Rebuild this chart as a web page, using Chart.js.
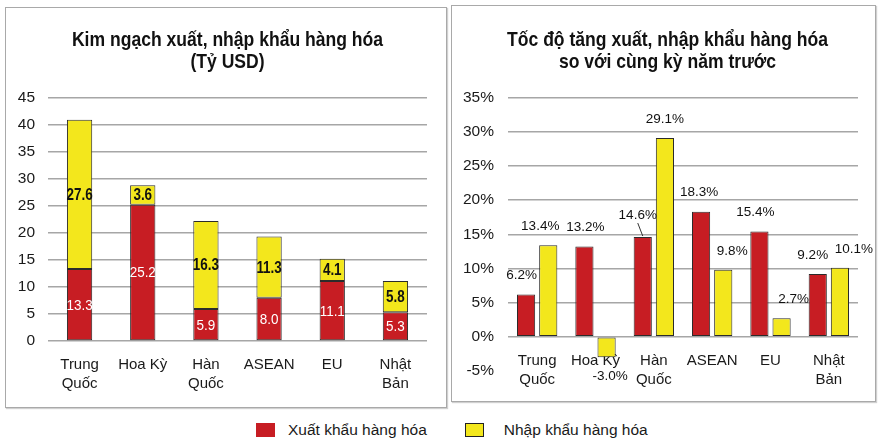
<!DOCTYPE html>
<html>
<head>
<meta charset="utf-8">
<script src="https://cdn.jsdelivr.net/npm/chart.js@4.4.1/dist/chart.umd.min.js"></script>
<style>
  html, body { margin: 0; padding: 0; background: #fff; }
  body { width: 883px; height: 446px; position: relative; overflow: hidden; font-family: "Liberation Sans", Arial, sans-serif; }
  .panel { position: absolute; box-sizing: border-box; border: 1px solid #a9a9a9; box-shadow: 1px 1px 1px #d0d0d0; background: #fff; }
  .panel canvas { position: absolute; left: 0; top: 0; }
  #p1 { left: 5px; top: 7px; width: 442px; height: 401px; }
  #p2 { left: 451px; top: 5px; width: 425px; height: 397px; }
  #legend { position: absolute; left: 256px; top: 421px; display: flex; align-items: center; font-size: 15.5px; color: #1a1a1a; white-space: nowrap; }
  .lg-item { display: flex; align-items: center; }
  .lg-box { width: 19px; height: 14px; box-sizing: border-box; }
</style>
</head>
<body>
<div class="panel" id="p1"><canvas id="c1" width="440" height="399" style="width:440px;height:399px"></canvas></div>
<div class="panel" id="p2"><canvas id="c2" width="423" height="395" style="width:423px;height:395px"></canvas></div>
<div id="legend"></div>
<script>
// ---- data ----
const categories = [['Trung', 'Quốc'], 'Hoa Kỳ', ['Hàn', 'Quốc'], 'ASEAN', 'EU', ['Nhật', 'Bản']];
const seriesNames = ['Xuất khẩu hàng hóa', 'Nhập khẩu hàng hóa'];
const exportValue = [13.3, 25.2, 5.9, 8.0, 11.1, 5.3];   // tỷ USD
const importValue = [27.6, 3.6, 16.3, 11.3, 4.1, 5.8];   // tỷ USD
const exportGrowth = [6.2, 13.2, 14.6, 18.3, 15.4, 9.2]; // %
const importGrowth = [13.4, -3.0, 29.1, 9.8, 2.7, 10.1]; // %
const leftTicks = [0, 5, 10, 15, 20, 25, 30, 35, 40, 45];
const rightTicks = [-5, 0, 5, 10, 15, 20, 25, 30, 35];
const leftTitle = ['Kim ngạch xuất, nhập khẩu hàng hóa', '(Tỷ USD)'];
const rightTitle = ['Tốc độ tăng xuất, nhập khẩu hàng hóa', 'so với cùng kỳ năm trước'];

// ---- styles ----
const RED = '#c71d23';
const YELLOW = '#f3e71c';
const EDGE = '#2b2b2b';
const GRID = '#a6a6a6';
const FONT = '"Liberation Sans", Arial, sans-serif';

function squeezedText(ctx, text, x, y, sx) {
  ctx.save();
  ctx.translate(x, y);
  ctx.scale(sx, 1);
  ctx.fillText(text, 0, 0);
  ctx.restore();
}

// legend
const legend = document.getElementById('legend');
[[RED, 'none'], [YELLOW, '1.5px solid #222']].forEach((st, i) => {
  const it = document.createElement('div');
  it.className = 'lg-item';
  it.style.marginRight = i === 0 ? '38px' : '0';
  const b = document.createElement('div');
  b.className = 'lg-box';
  b.style.background = st[0];
  b.style.border = st[1];
  b.style.marginRight = i === 0 ? '13px' : '20px';
  const t = document.createElement('span');
  t.textContent = seriesNames[i];
  it.appendChild(b); it.appendChild(t);
  legend.appendChild(it);
});

// condensed bold title plugin
const narrowTitle = {
  id: 'narrowTitle',
  afterDraw(chart, args, opts) {
    const ctx = chart.ctx;
    ctx.save();
    ctx.font = 'bold 21px ' + FONT;
    ctx.fillStyle = '#111';
    ctx.textAlign = 'center';
    ctx.textBaseline = 'middle';
    opts.lines.forEach((line, k) => {
      squeezedText(ctx, line, chart.width / 2 + opts.dx, opts.y + k * 22, 0.836);
    });
    ctx.restore();
  }
};

// stacked labels plugin (left)
const stackLabels = {
  id: 'stackLabels',
  afterDatasetsDraw(chart) {
    const ctx = chart.ctx;
    ctx.save();
    ctx.textAlign = 'center';
    ctx.textBaseline = 'middle';
    chart.data.datasets.forEach((ds, di) => {
      const meta = chart.getDatasetMeta(di);
      meta.data.forEach((el, i) => {
        const p = el.getProps(['x', 'y', 'base'], true);
        const cy = (p.y + p.base) / 2 + 1;
        const txt = ds.data[i].toFixed(1);
        if (di === 0) {
          ctx.font = '14.5px ' + FONT;
          ctx.fillStyle = '#ffffff';
          squeezedText(ctx, txt, p.x, cy, 0.93);
        } else {
          ctx.font = 'bold 16px ' + FONT;
          ctx.fillStyle = '#111';
          squeezedText(ctx, txt, p.x, cy, 0.84);
        }
      });
    });
    ctx.restore();
  }
};

// grouped labels plugin (right)
const growthLabels = {
  id: 'growthLabels',
  afterDatasetsDraw(chart, args, opts) {
    const ctx = chart.ctx;
    ctx.save();
    ctx.textAlign = 'center';
    ctx.textBaseline = 'middle';
    ctx.font = '13.5px ' + FONT;
    ctx.fillStyle = '#111';
    chart.data.datasets.forEach((ds, di) => {
      const meta = chart.getDatasetMeta(di);
      meta.data.forEach((el, i) => {
        const p = el.getProps(['x', 'y', 'base'], true);
        const v = ds.data[i];
        const dx = opts.dx[di][i];
        const extra = opts.lift[di][i];
        const lx = p.x + dx;
        const ly = v >= 0 ? p.y - 19 - extra : p.y + 19;
        ctx.fillText(v.toFixed(1) + '%', lx, ly);
        if (extra > 0) {
          ctx.strokeStyle = '#333';
          ctx.lineWidth = 1;
          ctx.beginPath();
          ctx.moveTo(lx, ly + 8);
          ctx.lineTo(p.x, p.y - 1);
          ctx.stroke();
        }
      });
    });
    ctx.restore();
  }
};

Chart.defaults.font.family = FONT;
Chart.defaults.color = '#1a1a1a';

// ---- left chart ----
new Chart(document.getElementById('c1'), {
  type: 'bar',
  data: {
    labels: categories,
    datasets: [
      { label: seriesNames[0], data: exportValue, backgroundColor: RED, borderColor: EDGE, borderWidth: 1, borderSkipped: false },
      { label: seriesNames[1], data: importValue, backgroundColor: YELLOW, borderColor: EDGE, borderWidth: 1, borderSkipped: false }
    ]
  },
  options: {
    responsive: false,
    animation: false,
    layout: { padding: { left: 0, right: 19, top: 89.6, bottom: 0 } },
    datasets: { bar: { barPercentage: 0.4, categoryPercentage: 1.0 } },
    plugins: {
      legend: { display: false },
      tooltip: { enabled: false },
      title: { display: false },
      narrowTitle: { lines: leftTitle, y: 32, dx: 1.5 }
    },
    scales: {
      x: {
        stacked: true,
        grid: { display: false },
        border: { display: false },
        ticks: { font: { size: 15, lineHeight: 1.3 }, padding: 6, maxRotation: 0, autoSkip: false, color: '#1a1a1a' },
        afterFit(s) { s.height = 66; }
      },
      y: {
        stacked: true,
        min: leftTicks[0], max: leftTicks[leftTicks.length - 1],
        afterBuildTicks(s) { s.ticks = leftTicks.map(v => ({ value: v })); },
        grid: { color: GRID, lineWidth: 1.5, drawTicks: false },
        border: { display: false },
        ticks: { font: { size: 15.5 }, padding: 13, color: '#1a1a1a' },
        afterFit(s) { s.width = 42; }
      }
    }
  },
  plugins: [stackLabels, narrowTitle]
});

// ---- right chart ----
new Chart(document.getElementById('c2'), {
  type: 'bar',
  data: {
    labels: categories,
    datasets: [
      { label: seriesNames[0], data: exportGrowth, backgroundColor: RED, borderColor: EDGE, borderWidth: 1, borderSkipped: false },
      { label: seriesNames[1], data: importGrowth, backgroundColor: YELLOW, borderColor: EDGE, borderWidth: 1, borderSkipped: false }
    ]
  },
  options: {
    responsive: false,
    animation: false,
    layout: { padding: { left: 0, right: 17, top: 91.6, bottom: 30 } },
    datasets: { bar: { barPercentage: 0.82, categoryPercentage: 0.76 } },
    plugins: {
      legend: { display: false },
      tooltip: { enabled: false },
      title: { display: false },
      narrowTitle: { lines: rightTitle, y: 34, dx: 4 },
      growthLabels: {
        dx: [[-4.5, 1, -5, -2, -4, -5], [-8, 3.5, 0, 9, 12, 14]],
        lift: [[0, 0, 3, 0, 0, 0], [0, 0, 0, 0, 0, 0]]
      }
    },
    scales: {
      x: {
        position: { y: 0 },
        grid: { display: false },
        border: { display: false },
        ticks: { font: { size: 15, lineHeight: 1.3 }, padding: 6, maxRotation: 0, autoSkip: false, color: '#1a1a1a' }
      },
      y: {
        min: rightTicks[0], max: rightTicks[rightTicks.length - 1],
        afterBuildTicks(s) { s.ticks = rightTicks.map(v => ({ value: v })); },
        grid: {
          color: c => (c.tick && c.tick.value === rightTicks[0]) ? 'rgba(0,0,0,0)' : GRID,
          lineWidth: 1.5, drawTicks: false
        },
        border: { display: false },
        ticks: { font: { size: 15.5 }, padding: 14, color: '#1a1a1a', callback: v => v + '%' },
        afterFit(s) { s.width = 56; }
      }
    }
  },
  plugins: [growthLabels, narrowTitle]
});
</script>
</body>
</html>
